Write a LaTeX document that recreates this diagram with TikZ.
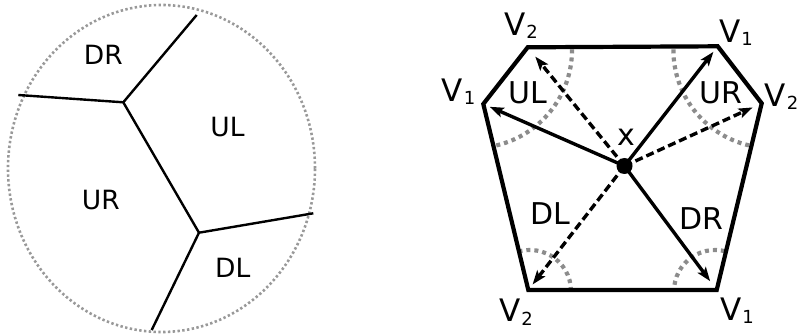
\documentclass[tikz,border=0pt]{standalone}
\usepackage{fontspec}
\setmainfont{DejaVu Sans}
\usetikzlibrary{arrows.meta}
\newcommand{\Vlab}[1]{V\kern1pt\raisebox{-3.3pt}{\fontsize{18}{18}\selectfont #1}}
\begin{document}
\begin{tikzpicture}[x=1pt,y=-1pt,
  region/.style={draw=black, line width=2.4pt},
  bound/.style={draw=black!40, line width=2.6pt, dash pattern=on 2.4pt off 2.4pt},
  arcdot/.style={draw=black!45, line width=4.2pt, dash pattern=on 4pt off 4pt},
  hexa/.style={draw=black, line width=4.2pt, line join=miter},
  vec/.style={draw=black, line width=3.4pt, -{Stealth[length=14pt,width=10pt,inset=3pt]}},
  dvec/.style={vec, dash pattern=on 8pt off 4pt},
  lablft/.style={inner sep=0pt, font=\fontsize{26.5}{26.5}\selectfont},
  labrgt/.style={inner sep=0pt, font=\fontsize{30}{30}\selectfont},
  vlab/.style={inner sep=0pt, anchor=base west, font=\fontsize{31}{31}\selectfont},
  dot/.style={circle, fill=black, inner sep=0pt, minimum size=16pt}]
\useasboundingbox (0,0) rectangle (801,334);
% ---------- left figure ----------
\draw[bound] (161.5,168.5) ellipse [x radius=153.5pt, y radius=163.5pt];
\coordinate (A) at (123.3,102.3);
\coordinate (B) at (199,232.7);
\coordinate (e1) at (196.7,15);
\coordinate (e2) at (18.3,95);
\coordinate (e3) at (313.3,213.3);
\coordinate (e4) at (151.7,330);
\draw[region] (e1) -- (A) -- (e2);
\draw[region] (A) -- (B);
\draw[region] (e3) -- (B) -- (e4);
\node[lablft] (lDR) at (103.3,54.5) {DR};
\node[lablft] (lUL) at (227.5,127) {UL};
\node[lablft] (lUR) at (100.8,200) {UR};
\node[lablft] (lDL) at (232.7,268) {DL};
% ---------- right figure ----------
\coordinate (p1) at (527.7,47.3);  % top-left V2
\coordinate (p2) at (717.7,46.3);  % top-right V1
\coordinate (p3) at (761.7,103.3); % right V2
\coordinate (p4) at (716.7,290);   % bottom-right V1
\coordinate (p5) at (528.3,290);   % bottom-left V2
\coordinate (p6) at (483.3,104);   % left V1
\begin{scope}
  \clip (p1) -- (p2) -- (p3) -- (p4) -- (p5) -- (p6) -- cycle;
  \draw[arcdot] ([shift={(5:98pt)}]474,50) arc[start angle=5, end angle=-88, radius=98pt];
  \draw[arcdot] ([shift={(175:98pt)}]771.4,50) arc[start angle=175, end angle=268, radius=98pt];
  \draw[arcdot] ([shift={(0:41pt)}]530,291) arc[start angle=0, end angle=115, radius=41pt];
  \draw[arcdot] ([shift={(65:41pt)}]715,291) arc[start angle=65, end angle=180, radius=41pt];
\end{scope}
\draw[hexa] (p1) -- (p2) -- (p3) -- (p4) -- (p5) -- (p6) -- cycle;
\coordinate (c) at (624.5,166);
\draw[dvec, shorten >=12pt] (c) -- (p1);
\draw[vec, shorten >=7pt] (c) -- (p2);
\draw[dvec, shorten >=10pt] (c) -- (p3);
\draw[vec, shorten >=11pt] (c) -- (p4);
\draw[dvec, shorten >=7pt] (c) -- (p5);
\draw[vec, shorten >=7pt] (c) -- (p6);
\node[dot] (cdot) at (c) {};
\node[labrgt] (rUL) at (527.5,92.5) {UL};
\node[labrgt] (rUR) at (720.8,92.5) {UR};
\node[labrgt] (rX) at (626.5,137) {x};
\node[labrgt] (rDL) at (550,214) {DL};
\node[labrgt] (rDR) at (701.7,218.3) {DR};
\node[vlab] (v1) at (504,35.5) {\Vlab{2}};
\node[vlab] (v2) at (719,42.5) {\Vlab{1}};
\node[vlab] (v3) at (764.5,106.7) {\Vlab{2}};
\node[vlab] (v4) at (720,320) {\Vlab{1}};
\node[vlab] (v5) at (499,321.7) {\Vlab{2}};
\node[vlab] (v6) at (441.5,101.7) {\Vlab{1}};
\end{tikzpicture}
\end{document}
